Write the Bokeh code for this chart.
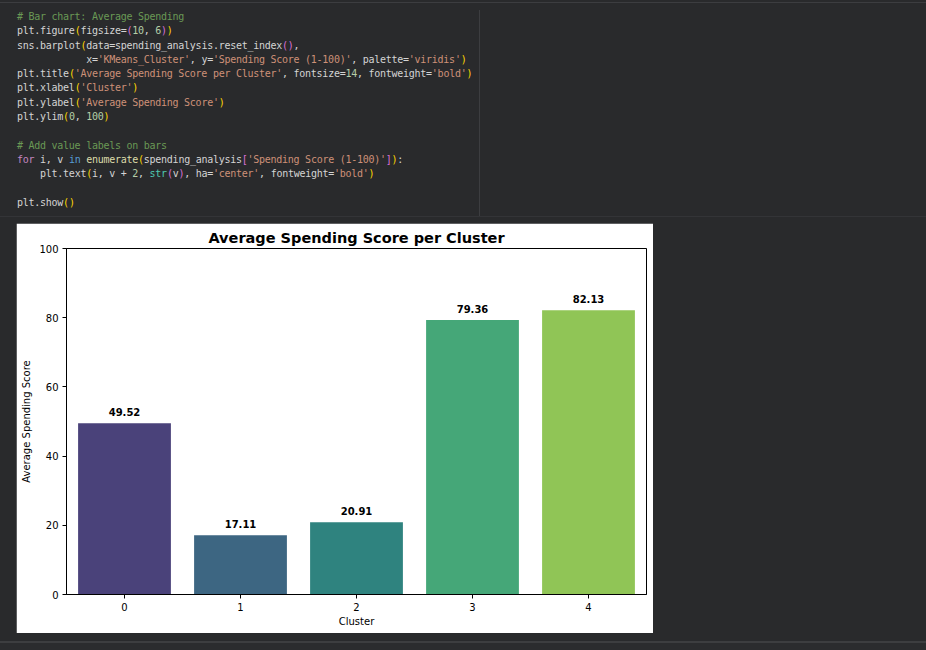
import re
from bokeh.plotting import figure
from bokeh.models import ColumnDataSource, FactorRange, Range1d, FixedTicker, Div, Spacer
from bokeh.layouts import column, row
from bokeh.core.properties import value
from bokeh.embed import file_html
from bokeh.resources import INLINE

# data
clusters = ["0", "1", "2", "3", "4"]
spending = [49.52, 17.11, 20.91, 79.36, 82.13]
y_ticks = [0, 20, 40, 60, 80, 100]

# seaborn viridis (5), desaturated 0.75
bar_colors = ["#4a427a", "#3d6682", "#2f837f", "#45a778", "#90c556"]

# the notebook cell above the chart
code_lines = [
    "# Bar chart: Average Spending",
    "plt.figure(figsize=(10, 6))",
    "sns.barplot(data=spending_analysis.reset_index(),",
    "            x='KMeans_Cluster', y='Spending Score (1-100)', palette='viridis')",
    "plt.title('Average Spending Score per Cluster', fontsize=14, fontweight='bold')",
    "plt.xlabel('Cluster')",
    "plt.ylabel('Average Spending Score')",
    "plt.ylim(0, 100)",
    "",
    "# Add value labels on bars",
    "for i, v in enumerate(spending_analysis['Spending Score (1-100)']):",
    "    plt.text(i, v + 2, str(v), ha='center', fontweight='bold')",
    "",
    "plt.show()",
]

BG = "#292a2c"
FONT = "DejaVu Sans"

# ---- code cell as highlighted html ----
brackets = ["#ffd700", "#da70d6", "#179fff"]
special = {"for": "#c586c0", "in": "#569cd6", "enumerate": "#dcdcaa", "str": "#4ec9b0"}


def highlight(line, depth):
    out = []
    for m in re.finditer(r"#.*|'[^']*'|\d+|[()\[\]]|[A-Za-z_]\w*|\s+|.", line):
        t = m.group(0)
        color = "#d4d4d4"
        if t.startswith("#"):
            color = "#6a9955"
        elif t.startswith("'"):
            color = "#ce9178"
        elif t.isdigit():
            color = "#b5cea8"
        elif t in "([":
            color = brackets[depth % 3]
            depth += 1
        elif t in ")]":
            depth -= 1
            color = brackets[depth % 3]
        elif t in special:
            color = special[t]
        if t.isspace():
            out.append(t)
        else:
            out.append('<span style="color:%s">%s</span>' % (color, t))
    return "".join(out), depth


depth = 0
html_lines = []
for ln in code_lines:
    h, depth = highlight(ln, depth)
    html_lines.append(h)

code_html = (
    '<div style="position:relative;width:926px;height:223px;background:%s;">' % BG
    + '<div style="position:absolute;left:0;top:2px;width:926px;height:1px;background:#3c3d40;"></div>'
    + '<div style="position:absolute;left:479px;top:10px;width:1px;height:207px;background:#3c3d40;"></div>'
    + '<div style="position:absolute;left:0;top:216px;width:926px;height:1px;background:#333437;"></div>'
    + '<pre style="position:absolute;left:17px;top:10px;margin:0;font-family:\'DejaVu Sans Mono\';'
    + 'font-size:10px;letter-spacing:-0.26px;line-height:14.28px;color:#d4d4d4;">'
    + "\n".join(html_lines)
    + "</pre></div>"
)
code_div = Div(text=code_html, width=926, height=223, margin=0)

# ---- chart ----
source = ColumnDataSource(dict(
    cluster=clusters,
    score=spending,
    color=bar_colors,
    label=[str(v) for v in spending],
    label_y=[v + 2 for v in spending],
))

p = figure(
    x_range=FactorRange(factors=clusters),
    y_range=Range1d(0, 100),
    width=637, height=410,
    output_backend="svg", toolbar_location=None,
    min_border_left=50, min_border_right=7, min_border_top=25, min_border_bottom=39,
    background_fill_color="white", border_fill_color="white",
    title="Average Spending Score per Cluster",
)

p.vbar(x="cluster", top="score", width=0.8, fill_color="color", line_color=None, source=source)
p.text(x="cluster", y="label_y", text="label", source=source,
       text_align="center", text_baseline="bottom",
       text_font=value(FONT), text_font_style="bold", text_font_size="10px", text_color="black")

p.title.align = "center"
p.title.text_font = FONT
p.title.text_font_size = "14.5px"
p.title.text_font_style = "bold"
p.title.text_color = "black"
p.title.standoff = 6

p.outline_line_color = "black"
p.outline_line_width = 1
p.xgrid.grid_line_color = None
p.ygrid.grid_line_color = None

p.yaxis.ticker = FixedTicker(ticks=y_ticks)
p.xaxis.axis_label = "Cluster"
p.yaxis.axis_label = "Average Spending Score"
for ax in (p.xaxis, p.yaxis):
    ax.axis_line_color = "black"
    ax.major_tick_line_color = "black"
    ax.minor_tick_line_color = None
    ax.major_tick_in = 0
    ax.major_tick_out = 4
    ax.major_label_standoff = 4
    ax.major_label_text_font = FONT
    ax.major_label_text_font_size = "10px"
    ax.major_label_text_color = "black"
    ax.axis_label_text_font = FONT
    ax.axis_label_text_font_size = "10px"
    ax.axis_label_text_font_style = "normal"
    ax.axis_label_text_color = "black"
p.xaxis.axis_label_standoff = 2
p.yaxis.axis_label_standoff = 4

bottom_html = (
    '<div style="position:relative;width:926px;height:17px;background:#2b2c2e;">'
    + '<div style="position:absolute;left:0;top:0;width:926px;height:8px;background:%s;"></div>' % BG
    + '<div style="position:absolute;left:0;top:8px;width:926px;height:2px;background:#3d3e40;"></div>'
    + "</div>"
)
bottom_div = Div(text=bottom_html, width=926, height=17, margin=0)

layout = column(
    code_div,
    row(Spacer(width=16, height=410), p, Spacer(width=273, height=410), spacing=0),
    bottom_div,
    spacing=0,
    styles={"background-color": BG},
)

open("out.html", "w").write(file_html(layout, INLINE))
